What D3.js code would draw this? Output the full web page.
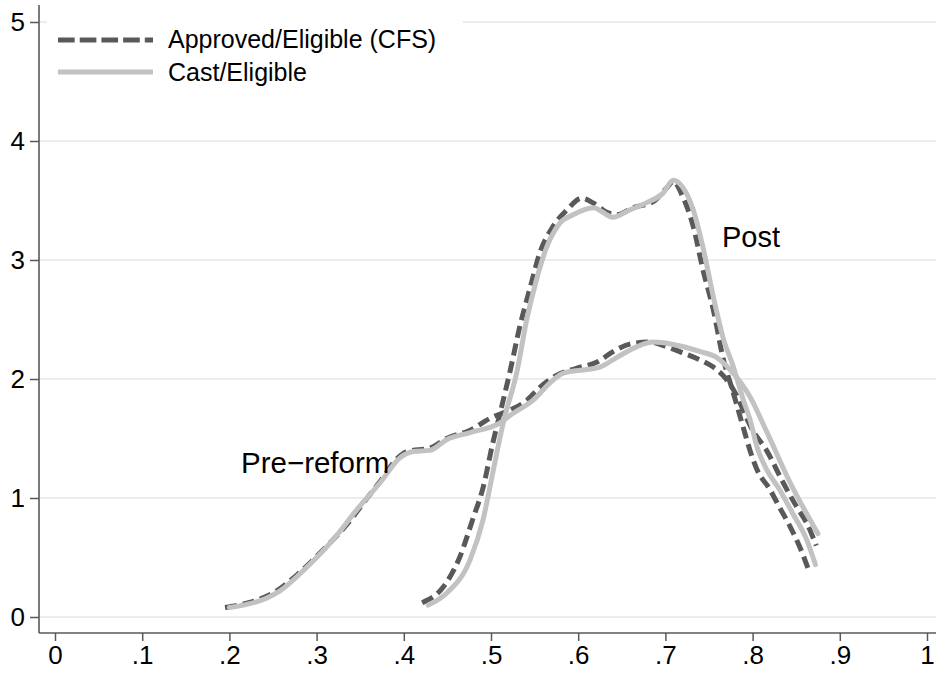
<!DOCTYPE html>
<html>
<head>
<meta charset="utf-8">
<script src="https://cdn.jsdelivr.net/npm/d3@7"></script>
<style>
  html, body { margin: 0; padding: 0; background: #fff; }
  svg { display: block; font-family: "Liberation Sans", Arial, Helvetica, sans-serif; }
</style>
</head>
<body>
<svg id="chart" width="936" height="673"></svg>
<script>
// Kernel density estimates of turnout ratios, before and after the reform
const preApprovedX = [0.195,0.235,0.25,0.277,0.307,0.335,0.358,0.373,0.392,0.404,0.43,0.449,0.476,0.499,0.522,0.541,0.556,0.575,0.598,0.621,0.64,0.663,0.682,0.702,0.72,0.74,0.755,0.766,0.778,0.80,0.816,0.835,0.851,0.862,0.873];
const preApprovedY = [0.08,0.15,0.2,0.35,0.56,0.78,1.0,1.14,1.33,1.39,1.42,1.5,1.57,1.67,1.74,1.82,1.93,2.03,2.09,2.14,2.23,2.30,2.31,2.27,2.22,2.16,2.10,2.03,1.91,1.57,1.40,1.13,0.92,0.79,0.60];

const preCastX = [0.2,0.243,0.258,0.289,0.319,0.346,0.373,0.396,0.411,0.43,0.449,0.476,0.51,0.525,0.548,0.568,0.583,0.61,0.625,0.644,0.667,0.686,0.709,0.74,0.759,0.774,0.797,0.816,0.843,0.875];
const preCastY = [0.08,0.16,0.22,0.42,0.65,0.9,1.13,1.34,1.39,1.40,1.49,1.55,1.63,1.71,1.82,1.97,2.05,2.08,2.10,2.18,2.27,2.31,2.29,2.23,2.18,2.08,1.85,1.56,1.13,0.70];

const postApprovedX = [0.421,0.445,0.464,0.479,0.491,0.502,0.51,0.522,0.533,0.545,0.556,0.571,0.587,0.604,0.617,0.633,0.644,0.663,0.686,0.702,0.709,0.72,0.732,0.743,0.755,0.766,0.778,0.789,0.797,0.805,0.82,0.831,0.843,0.854,0.864];
const postApprovedY = [0.12,0.25,0.5,0.82,1.09,1.46,1.70,2.07,2.44,2.77,3.06,3.28,3.42,3.52,3.48,3.40,3.38,3.44,3.49,3.61,3.66,3.53,3.28,2.92,2.58,2.18,1.88,1.6,1.4,1.24,1.07,0.92,0.76,0.59,0.40];

const postCastX = [0.428,0.449,0.476,0.491,0.502,0.514,0.53,0.541,0.552,0.564,0.579,0.594,0.617,0.64,0.659,0.678,0.697,0.709,0.72,0.732,0.743,0.755,0.766,0.778,0.79,0.797,0.805,0.816,0.831,0.846,0.862,0.872];
const postCastY = [0.10,0.20,0.48,0.82,1.21,1.63,2.07,2.50,2.83,3.11,3.31,3.38,3.44,3.36,3.42,3.48,3.56,3.67,3.61,3.42,3.11,2.69,2.35,2.10,1.81,1.66,1.43,1.24,1.07,0.87,0.65,0.44];

const xTicks = [0,0.1,0.2,0.3,0.4,0.5,0.6,0.7,0.8,0.9,1];
const xTickLabels = ["0",".1",".2",".3",".4",".5",".6",".7",".8",".9","1"];
const yTicks = [0,1,2,3,4,5];
const yTickLabels = ["0","1","2","3","4","5"];

const seriesNames = ["Approved/Eligible (CFS)", "Cast/Eligible"];
const groupLabels = ["Pre\u2212reform", "Post"];

const svg = d3.select("#chart");
const W = 936, H = 673;
const axisLeftX = 39, axisBottomY = 633, plotTop = 5;

const x = d3.scaleLinear().domain([0, 1]).range([55, 927]);
const y = d3.scaleLinear().domain([0, 5]).range([617, 22]);

const darkGray = "#595959";
const lightGray = "#c2c2c2";

// horizontal grid
svg.append("g").selectAll("line").data(yTicks).join("line")
  .attr("x1", axisLeftX).attr("x2", W)
  .attr("y1", d => y(d)).attr("y2", d => y(d))
  .attr("stroke", "#e6e6e6").attr("stroke-width", 1.6);

const line = d3.line().x(d => x(d[0])).y(d => y(d[1])).curve(d3.curveMonotoneX);
const zip = (xs, ys) => xs.map((v, i) => [v, ys[i]]);

const curves = svg.append("g").attr("fill", "none").attr("stroke-linejoin", "round");
// Approved/Eligible (dashed)
[[preApprovedX, preApprovedY], [postApprovedX, postApprovedY]].forEach(([xs, ys]) => {
  curves.append("path").attr("d", line(zip(xs, ys)))
    .attr("stroke", darkGray).attr("stroke-width", 5)
    .attr("stroke-dasharray", "12,6");
});
// Cast/Eligible (solid)
[[preCastX, preCastY], [postCastX, postCastY]].forEach(([xs, ys]) => {
  curves.append("path").attr("d", line(zip(xs, ys)))
    .attr("stroke", lightGray).attr("stroke-width", 5).attr("stroke-linecap", "round");
});

// group labels
svg.append("text").attr("x", 241).attr("y", 473).attr("font-size", 29.5).attr("fill", "#000")
  .text(groupLabels[0]);
svg.append("text").attr("x", 722).attr("y", 247).attr("font-size", 29).attr("fill", "#000")
  .text(groupLabels[1]);

// legend
const lg = svg.append("g");
lg.append("rect").attr("x", 47).attr("y", 8).attr("width", 416).attr("height", 88).attr("fill", "#fff");
lg.append("line").attr("x1", 58).attr("x2", 153).attr("y1", 40).attr("y2", 40)
  .attr("stroke", darkGray).attr("stroke-width", 5).attr("stroke-dasharray", "16.7,5");
lg.append("line").attr("x1", 58).attr("x2", 153).attr("y1", 72).attr("y2", 72)
  .attr("stroke", lightGray).attr("stroke-width", 5);
lg.append("text").attr("x", 168).attr("y", 48).attr("font-size", 25).text(seriesNames[0]);
lg.append("text").attr("x", 168).attr("y", 81).attr("font-size", 25).text(seriesNames[1]);

// axes
const yAxis = d3.axisLeft(y).tickValues(yTicks).tickFormat((d, i) => yTickLabels[i])
  .tickSize(9).tickPadding(5);
const gy = svg.append("g").attr("transform", `translate(${axisLeftX},0)`).call(yAxis);
gy.select(".domain").remove();
gy.selectAll(".tick line").attr("stroke", darkGray).attr("stroke-width", 1.5);
gy.selectAll(".tick text").attr("font-size", 26).attr("fill", "#000")
  .attr("font-family", "Liberation Sans, Arial, sans-serif");

const xAxis = d3.axisBottom(x).tickValues(xTicks).tickFormat((d, i) => xTickLabels[i])
  .tickSize(8).tickPadding(5);
const gx = svg.append("g").attr("transform", `translate(0,${axisBottomY})`).call(xAxis);
gx.select(".domain").remove();
gx.selectAll(".tick line").attr("stroke", darkGray).attr("stroke-width", 1.5);
gx.selectAll(".tick text").attr("font-size", 26).attr("fill", "#000")
  .attr("font-family", "Liberation Sans, Arial, sans-serif");

svg.append("line").attr("x1", axisLeftX).attr("x2", axisLeftX).attr("y1", plotTop).attr("y2", axisBottomY)
  .attr("stroke", darkGray).attr("stroke-width", 1.6);
svg.append("line").attr("x1", axisLeftX).attr("x2", W).attr("y1", axisBottomY).attr("y2", axisBottomY)
  .attr("stroke", darkGray).attr("stroke-width", 1.6);
</script>
</body>
</html>
